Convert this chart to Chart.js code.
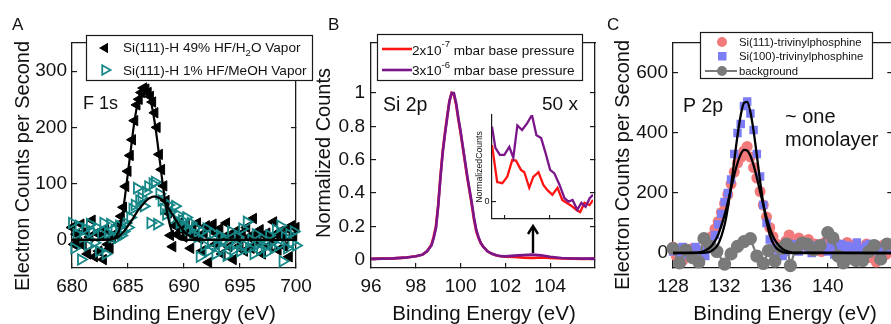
<!DOCTYPE html>
<html>
<head>
<meta charset="utf-8">
<script src="https://cdn.jsdelivr.net/npm/chart.js@4.4.1/dist/chart.umd.min.js"></script>
<style>
html, body { margin: 0; padding: 0; background: #fff; overflow: hidden; width: 891px; height: 324px; }
canvas { position: absolute; left: 0; top: 0; }
</style>
</head>
<body>
<canvas id="panelA" width="900" height="324"></canvas>
<canvas id="panelB" width="900" height="324"></canvas>
<canvas id="panelInset" width="900" height="324"></canvas>
<canvas id="panelC" width="900" height="324"></canvas>
<script>
const FONT = "'Liberation Sans', Arial, sans-serif";
const CW = 900, CH = 324;
const INK = '#1a1a1a';

// ---- panel A : F 1s ----
const aEnergy = [
  680, 680.2, 680.4, 680.6, 680.8, 681, 681.2, 681.4, 681.6, 681.8,
  682, 682.2, 682.4, 682.6, 682.8, 683, 683.2, 683.4, 683.6, 683.8,
  684, 684.2, 684.4, 684.6, 684.8, 685, 685.2, 685.4, 685.6, 685.8,
  686, 686.2, 686.4, 686.6, 686.8, 687, 687.2, 687.4, 687.6, 687.8,
  688, 688.2, 688.4, 688.6, 688.8, 689, 689.2, 689.4, 689.6, 689.8,
  690, 690.2, 690.4, 690.6, 690.8, 691, 691.2, 691.4, 691.6, 691.8,
  692, 692.2, 692.4, 692.6, 692.8, 693, 693.2, 693.4, 693.6, 693.8,
  694, 694.2, 694.4, 694.6, 694.8, 695, 695.2, 695.4, 695.6, 695.8,
  696, 696.2, 696.4, 696.6, 696.8, 697, 697.2, 697.4, 697.6, 697.8,
  698, 698.2, 698.4, 698.6, 698.8, 699, 699.2, 699.4, 699.6, 699.8,
  700];
const aWater = [
  22, -8, 10, -5, 28, -10, 15, -25, 5, 35,
  -30, 12, -20, 8, -35, 18, -8, -15, 3, 10,
  12, 28, 42, 58, 95, 122, 150, 178, 212, 240,
  250, 262, 270, 268, 262, 255, 245, 226, 200, 152,
  125, 96, 70, 48, 8, -12, 25, 10, 30, 18,
  5, 28, 15, -15, 22, 8, 30, 2, -20, 12,
  25, -40, 18, 28, -8, 10, 20, -25, 5, 30,
  -12, 8, -35, 15, 2, -10, 12, -20, 22, 5,
  -15, 38, 10, -5, 18, -25, 8, 12, -10, 3,
  32, 10, -18, 15, 6, -12, 20, -30, 25, 8,
  22];
const aMeOH = [
  30, -15, 10, 25, -35, 5, 20, -10, 28, 15,
  -5, 22, -20, 10, 30, -25, 12, 28, 5, 18,
  3, 25, 8, 15, 30, 22, 40, 55, 62, 92,
  70, 75, 60, 85, 95, 30, 100, 103, 28, 82,
  70, 55, 45, 62, 50, 38, 60, 45, 30, 35,
  25, 40, 18, 30, 10, 22, 5, -30, 15, -10,
  20, -20, -5, 12, -25, -8, 8, -15, 0, -28,
  -5, 15, -18, -8, 5, -20, 20, -10, 32, -15,
  0, -25, 10, -8, -18, 2, -12, -22, 8, -5,
  -15, 18, -10, 25, -38, 5, -15, 10, -5, 15,
  -10];
const aFitEnergy = [680, 683, 683.5, 684, 684.25, 684.5, 684.75, 685, 685.25, 685.5, 685.75, 686, 686.25, 686.5, 686.75,
  687, 687.25, 687.5, 687.75, 688, 688.25, 688.5, 688.75, 689, 689.5, 690, 690.5, 691, 691.5, 692, 700];
const aFitWater = [0, 0, 1, 8, 20, 45, 80, 120, 160, 200, 232, 255, 268, 272, 266,
  250, 225, 193, 155, 115, 78, 48, 26, 12, 3, 0, 0, 0, 0, 0, 0];
const aFitMeOH = [0, 0, 1, 4, 7, 12, 18, 25, 32, 40, 48, 55, 61, 67, 72,
  75, 77, 77, 75, 72, 67, 60, 52, 44, 28, 15, 7, 3, 1, 0, 0];
const aXTicks = [680, 685, 690, 695, 700];
const aYTicks = [0, 100, 200, 300];

// ---- panel B : Si 2p ----
const bEnergy = [96, 96.5, 97, 97.5, 98, 98.3, 98.5, 98.7, 98.8, 98.9, 99, 99.1, 99.2, 99.3, 99.4,
  99.5, 99.6, 99.7, 99.8, 99.9, 100, 100.1, 100.2, 100.3, 100.4, 100.5, 100.6, 100.7, 100.8, 100.9,
  101, 101.2, 101.4, 101.6, 101.8, 102, 102.4, 102.8, 103.2, 103.6, 104, 104.5, 105, 105.5, 106];
const bLowBase = [0.005, 0.006, 0.008, 0.012, 0.02, 0.03, 0.05, 0.09, 0.14, 0.2, 0.33, 0.5, 0.65, 0.76, 0.86,
  0.95, 1.0, 0.99, 0.93, 0.84, 0.76, 0.67, 0.58, 0.49, 0.41, 0.33, 0.24, 0.17, 0.13, 0.10,
  0.08, 0.05, 0.035, 0.025, 0.02, 0.018, 0.016, 0.012, 0.01, 0.013, 0.01, 0.008, 0.006, 0.005, 0.006];
const bHighBase = [0.005, 0.006, 0.008, 0.012, 0.02, 0.03, 0.05, 0.085, 0.13, 0.19, 0.32, 0.49, 0.64, 0.75, 0.85,
  0.95, 1.0, 1.0, 0.94, 0.85, 0.77, 0.68, 0.59, 0.50, 0.42, 0.34, 0.25, 0.18, 0.135, 0.10,
  0.08, 0.05, 0.035, 0.026, 0.021, 0.02, 0.024, 0.027, 0.03, 0.026, 0.017, 0.01, 0.007, 0.006, 0.006];
const bXTicks = [96, 98, 100, 102, 104];
const bYTicks = [0, 0.2, 0.4, 0.6, 0.8, 1];

// inset, 50 x
const insetEnergyLow = [101.45, 101.68, 101.91, 102.13, 102.35, 102.52, 102.74, 102.89, 103.11, 103.29, 103.52, 103.74,
  103.92, 104.14, 104.37, 104.58, 104.77, 104.98, 105.2, 105.38, 105.57, 105.8, 105.95];
const insetLow = [0.98, 0.34, 0.32, 0.43, 0.72, 0.71, 0.55, 0.51, 0.24, 0.43, 0.51, 0.29,
  0.20, 0.12, 0.24, 0.03, -0.02, -0.07, -0.14, -0.18, -0.02, -0.06, 0.03];
const insetEnergyHigh = [101.45, 101.6, 101.8, 102.0, 102.22, 102.4, 102.58, 102.79, 103.02, 103.23, 103.43, 103.64,
  103.86, 104.04, 104.23, 104.46, 104.68, 104.86, 105.04, 105.25, 105.43, 105.62, 105.8, 105.95];
const insetHigh = [1.30, 0.93, 0.81, 0.81, 0.95, 0.76, 1.32, 1.24, 1.36, 1.50, 1.15, 1.10,
  0.81, 0.55, 0.49, 0.29, 0.06, 0.0, 0.03, -0.14, -0.02, -0.09, 0.06, 0.12];

// ---- panel C : P 2p ----
const cEnergy = [
  128, 128.25, 128.5, 128.75, 129, 129.25, 129.5, 129.75, 130, 130.25,
  130.5, 130.75, 131, 131.25, 131.5, 131.75, 132, 132.25, 132.5, 132.75,
  133, 133.25, 133.5, 133.75, 134, 134.25, 134.5, 134.75, 135, 135.25,
  135.5, 135.75, 136, 136.25, 136.5, 136.75, 137, 137.25, 137.5, 137.75,
  138, 138.25, 138.5, 138.75, 139, 139.25, 139.5, 139.75, 140, 140.25,
  140.5, 140.75, 141, 141.25, 141.5, 141.75, 142, 142.25, 142.5, 142.75,
  143, 143.25, 143.5, 143.75, 144, 144.25, 144.5, 144.75, 145];
const cSi111 = [
  20, -10, 5, -25, 10, -5, 15, -20, 0, 8,
  15, 35, 55, 80, 105, 135, 165, 195, 230, 270,
  300, 318, 340, 355, 320, 285, 250, 205, 160, 120,
  85, 55, 30, 10, 25, 40, 60, 30, 15, 50,
  35, 25, 45, 10, 30, 20, 5, 35, 25, 40,
  15, 30, -5, 20, 35, 10, 25, -10, 15, 5,
  30, -15, 20, -30, 10, 25, -5, 15, 5];
const cSi100 = [
  5, 15, -10, 20, -5, 10, 0, 20, -15, 10,
  -10, 20, 35, 60, 95, 130, 170, 200, 245, 330,
  400, 430, 490, 505, 465, 410, 330, 255, 160, 100,
  45, 15, -15, 20, -10, 5, 25, 10, 30, 5,
  25, 35, 15, 0, 25, 10, 30, 15, 5, 25,
  -5, 20, 30, 10, 25, 0, 20, 35, 15, 5,
  25, 30, 10, 20, -5, 15, 25, 10, 20];
const cBgEnergy = [128, 128.5, 129, 129.5, 130, 130.4, 130.9, 131.4, 132, 132.5, 133, 133.5, 134, 134.5, 135, 135.4,
  135.9, 136.4, 136.8, 137.1, 137.5, 138, 138.4, 138.9, 139.4, 140, 140.4, 140.8, 141.2, 141.7, 142.2, 142.7,
  143.2, 143.6, 144.1, 144.6];
const cBackground = [15, -33, 10, -15, -30, 48, 22, 5, -37, -3, 22, 38, 48, -10, -35, 8,
  -27, 15, 30, -42, 15, 33, 30, 10, 25, 68, 50, -10, -33, -17, -25, -25,
  5, 25, -20, 30];
const cFitEnergy = [128, 130, 130.5, 131, 131.5, 132, 132.25, 132.5, 132.75, 133, 133.25, 133.5, 133.75, 134, 134.25,
  134.5, 134.75, 135, 135.25, 135.5, 135.75, 136, 136.5, 137, 137.5, 145];
const cFit111 = [0, 2, 8, 24, 61, 127, 169, 215, 260, 300, 329, 344, 342, 324, 292,
  251, 205, 160, 119, 84, 56, 36, 13, 4, 1, 0];
const cFit100 = [0, 0.1, 1, 7, 29, 94, 151, 224, 308, 391, 459, 500, 504, 470, 406,
  325, 240, 165, 104, 61, 33, 17, 3, 0.5, 0, 0];
const cXTicks = [128, 132, 136, 140];
const cYTicks = [0, 200, 400, 600];

// colours
const TEAL = 'rgb(22,134,134)';
const RED = 'rgb(255,20,20)';
const PURPLE = 'rgb(122,22,138)';
const PINK = 'rgb(243,122,122)';
const LILAC = 'rgb(124,124,244)';
const GREY = 'rgb(122,122,122)';

Chart.defaults.font.family = FONT;
Chart.defaults.color = '#111';

function pts(xs, ys) { return xs.map((x, i) => ({ x: x, y: ys[i] })); }

function fixedTicks(list) { return (scale) => { scale.ticks = list.map(v => ({ value: v })); }; }
function setWidth(w) { return (s) => { s.width = w; }; }
function setHeight(h) { return (s) => { s.height = h; }; }

const YW = 60, XH = 52;

// box frame: labelled bottom/left, bare top, ticks-only right
function frame(o) {
  const grid = { drawOnChartArea: false, drawTicks: true, tickLength: -5, color: INK, lineWidth: 1.2 };
  const border = { display: true, color: INK, width: 1.3 };
  const font = { size: 19 };
  return {
    x: { type: 'linear', position: 'bottom', min: o.x[0], max: o.x[1], afterBuildTicks: fixedTicks(o.xTicks), afterFit: setHeight(XH),
         grid: grid, border: border, ticks: { font: font, padding: 12.5, autoSkip: false, maxRotation: 0, callback: v => String(v) } },
    y: { type: 'linear', position: 'left', min: o.y[0], max: o.y[1], afterBuildTicks: fixedTicks(o.yTicks), afterFit: setWidth(YW),
         grid: grid, border: border, ticks: { font: font, padding: o.yPad, autoSkip: false, callback: v => String(v) } },
    xTop: { type: 'linear', position: 'top', min: o.x[0], max: o.x[1], afterFit: setHeight(0),
         grid: { display: false, drawTicks: false }, border: border, ticks: { display: false } },
    yRight: { type: 'linear', position: 'right', min: o.y[0], max: o.y[1], afterBuildTicks: fixedTicks(o.yTicks), afterFit: setWidth(0),
         grid: grid, border: border, ticks: { callback: () => '' } }
  };
}

function padFor(a, yw, xh) { return { left: a.l - yw, right: CW - a.r, top: a.t, bottom: CH - a.b - xh }; }

function txt(ctx, s, x, y, size, align) {
  ctx.font = size + 'px ' + FONT;
  ctx.fillStyle = '#111';
  ctx.textAlign = align || 'left';
  ctx.textBaseline = 'alphabetic';
  ctx.fillText(s, x, y);
  return ctx.measureText(s).width;
}
function vtxt(ctx, s, x, y, size) {
  ctx.save();
  ctx.translate(x, y);
  ctx.rotate(-Math.PI / 2);
  ctx.font = size + 'px ' + FONT;
  ctx.fillStyle = '#111';
  ctx.textAlign = 'center';
  ctx.textBaseline = 'middle';
  ctx.fillText(s, 0, 0);
  ctx.restore();
}
function legendBox(ctx, x, y, w, h) {
  ctx.fillStyle = '#fff';
  ctx.fillRect(x, y, w, h);
  ctx.strokeStyle = INK;
  ctx.lineWidth = 1.2;
  ctx.strokeRect(x + 0.5, y + 0.5, w, h);
}
function tri(ctx, cx, cy, r, dir) {
  // dir -1 points left, +1 points right
  ctx.beginPath();
  ctx.moveTo(cx + dir * r, cy);
  ctx.lineTo(cx - dir * r / 2, cy - r * 0.866);
  ctx.lineTo(cx - dir * r / 2, cy + r * 0.866);
  ctx.closePath();
}

const common = { responsive: false, animation: false, events: [],
  plugins: { legend: { display: false }, tooltip: { enabled: false } } };

// ---------- A ----------
const areaA = { l: 72, r: 296, t: 43, b: 268 };
new Chart(document.getElementById('panelA'), {
  type: 'scatter',
  data: { datasets: [
    { data: pts(aFitEnergy, aFitWater), showLine: true, pointRadius: 0, borderColor: '#000', borderWidth: 2.2, cubicInterpolationMode: 'monotone', order: 0 },
    { data: pts(aFitEnergy, aFitMeOH), showLine: true, pointRadius: 0, borderColor: '#000', borderWidth: 2.2, cubicInterpolationMode: 'monotone', order: 0 },
    { label: 'Si(111)-H 1% HF/MeOH Vapor', data: pts(aEnergy, aMeOH), pointStyle: 'triangle', rotation: 90, pointRadius: 6,
      backgroundColor: 'rgba(0,0,0,0)', borderColor: TEAL, borderWidth: 1.8, clip: false, order: 1 },
    { label: 'Si(111)-H 49% HF/H2O Vapor', data: pts(aEnergy, aWater), pointStyle: 'triangle', rotation: -90, pointRadius: 6,
      backgroundColor: '#000', borderColor: '#000', borderWidth: 1, clip: false, order: 2 }
  ] },
  options: Object.assign({}, common, {
    layout: { padding: padFor(areaA, YW, XH) },
    scales: frame({ x: [680, 700], y: [-50, 350], xTicks: aXTicks, yTicks: aYTicks, yPad: 10 })
  }),
  plugins: [{ id: 'textA', afterDraw(chart) {
    const ctx = chart.ctx;
    legendBox(ctx, 86, 35, 226, 45);
    ctx.fillStyle = '#000'; tri(ctx, 105, 48, 6, -1); ctx.fill();
    ctx.strokeStyle = TEAL; ctx.lineWidth = 1.8; tri(ctx, 105, 70, 5.5, 1); ctx.stroke();
    let x = 123;
    x += txt(ctx, 'Si(111)-H 49% HF/H', x, 52, 13.6);
    x += txt(ctx, '2', x, 56, 9.5);
    txt(ctx, 'O Vapor', x, 52, 13.6);
    txt(ctx, 'Si(111)-H 1% HF/MeOH Vapor', 123, 75, 13.6);
    txt(ctx, 'A', 12, 30, 17);
    txt(ctx, 'F 1s', 83, 109, 18);
    vtxt(ctx, 'Electron Counts per Second', 23, 166, 20);
    txt(ctx, 'Binding Energy (eV)', 184, 320, 20.5, 'center');
  } }]
});

// ---------- B ----------
const areaB = { l: 371, r: 595, t: 43, b: 268 };
new Chart(document.getElementById('panelB'), {
  type: 'scatter',
  data: { datasets: [
    { label: '3x10-6 mbar base pressure', data: pts(bEnergy, bHighBase), showLine: true, pointRadius: 0, borderColor: PURPLE, borderWidth: 2.6, order: 0 },
    { label: '2x10-7 mbar base pressure', data: pts(bEnergy, bLowBase), showLine: true, pointRadius: 0, borderColor: RED, borderWidth: 2.6, order: 1 }
  ] },
  options: Object.assign({}, common, {
    layout: { padding: padFor(areaB, YW, XH) },
    scales: frame({ x: [96, 106], y: [-0.05, 1.3], xTicks: bXTicks, yTicks: bYTicks, yPad: 11 })
  }),
  plugins: [{ id: 'textB', afterDraw(chart) {
    const ctx = chart.ctx;
    legendBox(ctx, 377, 34, 205, 46);
    ctx.lineWidth = 2.6;
    ctx.strokeStyle = RED; ctx.beginPath(); ctx.moveTo(382, 49); ctx.lineTo(412, 49); ctx.stroke();
    ctx.strokeStyle = PURPLE; ctx.beginPath(); ctx.moveTo(382, 70); ctx.lineTo(412, 70); ctx.stroke();
    let x = 412;
    x += txt(ctx, '2x10', x, 54.5, 13.6);
    x += txt(ctx, '-7', x, 47, 9.5);
    txt(ctx, ' mbar base pressure', x, 54.5, 13.6);
    x = 412;
    x += txt(ctx, '3x10', x, 75, 13.6);
    x += txt(ctx, '-6', x, 67.5, 9.5);
    txt(ctx, ' mbar base pressure', x, 75, 13.6);
    txt(ctx, 'B', 328, 30, 17);
    txt(ctx, 'Si 2p', 383, 111, 19.5);
    txt(ctx, '50 x', 542, 110, 19);
    // arrow to the magnified region
    ctx.strokeStyle = '#000'; ctx.lineWidth = 2.4;
    ctx.beginPath(); ctx.moveTo(533, 253); ctx.lineTo(533, 227); ctx.stroke();
    ctx.beginPath(); ctx.moveTo(528, 234); ctx.lineTo(533, 226); ctx.lineTo(538, 234); ctx.stroke();
    vtxt(ctx, 'Normalized Counts', 324, 153, 20);
    txt(ctx, 'Binding Energy (eV)', 484, 320, 20.5, 'center');
  } }]
});

// ---------- B inset ----------
const areaI = { l: 492, r: 593, t: 115, b: 219 };
new Chart(document.getElementById('panelInset'), {
  type: 'scatter',
  data: { datasets: [
    { data: pts(insetEnergyHigh, insetHigh), showLine: true, pointRadius: 0, borderColor: PURPLE, borderWidth: 2.3, order: 0 },
    { data: pts(insetEnergyLow, insetLow), showLine: true, pointRadius: 0, borderColor: RED, borderWidth: 2.3, order: 1 }
  ] },
  options: Object.assign({}, common, {
    layout: { padding: padFor(areaI, 12, 0) },
    scales: {
      x: { type: 'linear', min: 101.45, max: 105.95, afterBuildTicks: fixedTicks([102, 104]), afterFit: setHeight(0),
           grid: { drawOnChartArea: false, tickLength: -4, color: INK, lineWidth: 1.1 }, border: { color: INK, width: 1.2 },
           ticks: { callback: () => '' } },
      y: { type: 'linear', min: -0.3, max: 1.5, afterBuildTicks: fixedTicks([0]), afterFit: setWidth(12),
           grid: { drawOnChartArea: false, tickLength: -4, color: INK, lineWidth: 1.1 }, border: { color: INK, width: 1.2 },
           ticks: { font: { size: 9 }, padding: 6.5, callback: v => String(v) } }
    }
  }),
  plugins: [{ id: 'textI', afterDraw(chart) {
    vtxt(chart.ctx, 'NormalizedCounts', 480, 167, 8.7);
  } }]
});

// ---------- C ----------
const areaC = { l: 673, r: 893, t: 43, b: 268 };
new Chart(document.getElementById('panelC'), {
  type: 'scatter',
  data: { datasets: [
    { data: pts(cFitEnergy, cFit100), showLine: true, pointRadius: 0, borderColor: '#000', borderWidth: 2.3, cubicInterpolationMode: 'monotone', order: 0 },
    { data: pts(cFitEnergy, cFit111), showLine: true, pointRadius: 0, borderColor: '#000', borderWidth: 2.3, cubicInterpolationMode: 'monotone', order: 0 },
    { label: 'background', data: pts(cBgEnergy, cBackground), showLine: true, pointStyle: 'circle', pointRadius: 5.5,
      backgroundColor: GREY, borderColor: GREY, borderWidth: 2.2, clip: false, order: 1 },
    { label: 'Si(100)-trivinylphosphine', data: pts(cEnergy, cSi100), pointStyle: 'rect', pointRadius: 6,
      backgroundColor: LILAC, borderColor: LILAC, borderWidth: 0, clip: false, order: 2 },
    { label: 'Si(111)-trivinylphosphine', data: pts(cEnergy, cSi111), pointStyle: 'circle', pointRadius: 5.5,
      backgroundColor: PINK, borderColor: PINK, borderWidth: 0, clip: false, order: 3 }
  ] },
  options: Object.assign({}, common, {
    layout: { padding: padFor(areaC, YW, XH) },
    scales: frame({ x: [128, 145], y: [-50, 700], xTicks: cXTicks, yTicks: cYTicks, yPad: 10 })
  }),
  plugins: [{ id: 'textC', afterDraw(chart) {
    const ctx = chart.ctx;
    legendBox(ctx, 700, 32, 172, 46);
    ctx.fillStyle = PINK; ctx.beginPath(); ctx.arc(722, 42, 5, 0, Math.PI * 2); ctx.fill();
    ctx.fillStyle = LILAC; ctx.fillRect(718, 52, 8.5, 8.5);
    ctx.strokeStyle = GREY; ctx.lineWidth = 2;
    ctx.beginPath(); ctx.moveTo(705, 71); ctx.lineTo(737, 71); ctx.stroke();
    ctx.fillStyle = GREY; ctx.beginPath(); ctx.arc(722, 71, 5, 0, Math.PI * 2); ctx.fill();
    txt(ctx, 'Si(111)-trivinylphosphine', 739, 46, 11.3);
    txt(ctx, 'Si(100)-trivinylphosphine', 739, 60, 11.3);
    txt(ctx, 'background', 739, 75, 11.3);
    txt(ctx, 'C', 607, 30, 17);
    txt(ctx, 'P 2p', 683, 112, 19.5);
    txt(ctx, '~ one', 785, 123, 20);
    txt(ctx, 'monolayer', 785, 146, 20);
    vtxt(ctx, 'Electron Counts per Second', 623, 165, 20);
    txt(ctx, 'Binding Energy (eV)', 785, 320, 20.5, 'center');
  } }]
});
</script>
</body>
</html>
